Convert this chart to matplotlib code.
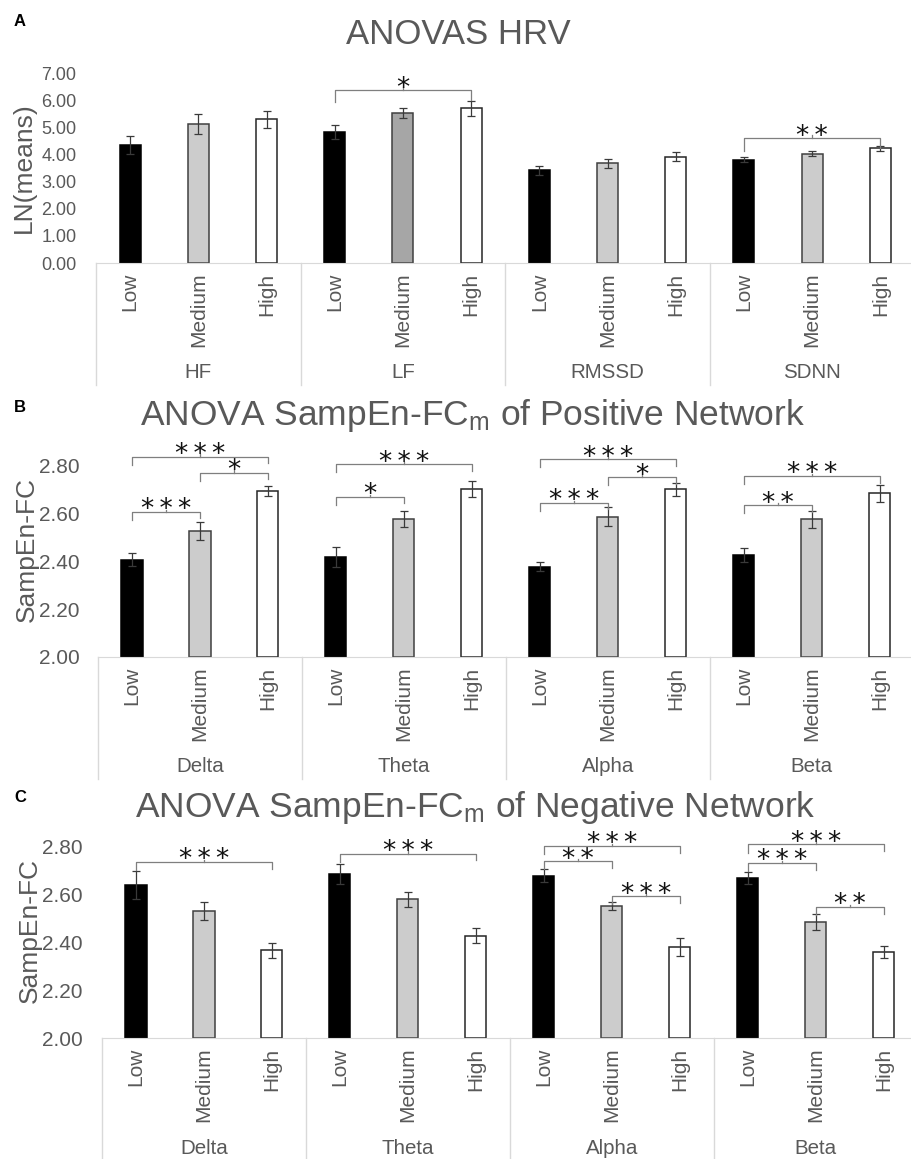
import matplotlib
matplotlib.use("Agg")
import matplotlib.pyplot as plt
import numpy as np

plt.rcParams['font.family'] = ['Liberation Sans', 'DejaVu Sans']
plt.rcParams['mathtext.fontset'] = 'custom'
plt.rcParams['mathtext.rm'] = 'Liberation Sans'
plt.rcParams['mathtext.it'] = 'Liberation Sans'

levels = ['Low', 'Medium', 'High']

# Panel A - HRV
hrv_groups = ['HF', 'LF', 'RMSSD', 'SDNN']
hrv_means = [4.35, 5.12, 5.29, 4.82, 5.54, 5.70, 3.41, 3.68, 3.92, 3.80, 4.02, 4.23]
hrv_err = [0.32, 0.38, 0.31, 0.26, 0.18, 0.28, 0.15, 0.17, 0.17, 0.09, 0.09, 0.09]
hrv_sig = [(3, 5, 6.37, '*'), (9, 11, 4.59, '**')]

# Panel B - positive network
bands = ['Delta', 'Theta', 'Alpha', 'Beta']
pos_means = [2.408, 2.526, 2.696, 2.418, 2.578, 2.702, 2.378, 2.587, 2.702, 2.427, 2.576, 2.685]
pos_err = [0.026, 0.038, 0.020, 0.043, 0.034, 0.033, 0.019, 0.039, 0.028, 0.029, 0.036, 0.036]
pos_sig = [(0, 1, 2.608, '***'), (0, 2, 2.839, '***'), (1, 2, 2.772, '*'),
           (3, 4, 2.671, '*'), (3, 5, 2.808, '***'),
           (6, 7, 2.646, '***'), (6, 8, 2.829, '***'), (7, 8, 2.753, '*'),
           (9, 10, 2.636, '**'), (9, 11, 2.758, '***')]

# Panel C - negative network
neg_means = [2.640, 2.532, 2.367, 2.686, 2.581, 2.429, 2.680, 2.553, 2.381, 2.669, 2.486, 2.360]
neg_err = [0.059, 0.037, 0.032, 0.042, 0.031, 0.031, 0.029, 0.017, 0.038, 0.025, 0.032, 0.025]
neg_sig = [(0, 2, 2.737, '***'), (3, 5, 2.772, '***'),
           (6, 7, 2.741, '**'), (6, 8, 2.804, '***'), (7, 8, 2.594, '***'),
           (9, 10, 2.733, '***'), (9, 11, 2.810, '***'), (10, 11, 2.549, '**')]

GRAY_TXT = '#595959'
fills = ['#000000', '#cccccc', '#ffffff']
edges = ['#000000', '#404040', '#262626']

W, H = 911, 1159
fig = plt.figure(figsize=(W / 100, H / 100), dpi=100)


def px_axes(left, right, top, bottom):
    return fig.add_axes([left / W, 1 - bottom / H, (right - left) / W, (bottom - top) / H])


def draw_panel(ax, means, errs, groups, sigs, ylim, yticks, fmt, ylabel, drop,
               xmax, label_pad, ytick_size, ylab_pad, med_colors=None):
    x = np.arange(len(means))
    colors = [fills[i % 3] for i in x]
    ecols = [edges[i % 3] for i in x]
    if med_colors:
        for k, c in med_colors.items():
            colors[k] = c
    ax.bar(x, np.array(means) - ylim[0], bottom=ylim[0], width=0.31, color=colors,
           edgecolor=ecols, linewidth=1.1, zorder=2)
    ax.errorbar(x, means, yerr=errs, fmt='none', ecolor='#3a3a3a', elinewidth=0.9,
                capsize=3, capthick=0.9, zorder=3)
    ax.set_xlim(-0.5, xmax)
    ax.set_ylim(*ylim)
    ax.set_yticks(yticks)
    ax.set_yticklabels([fmt.format(v) for v in yticks])
    ax.set_xticks(x)
    ax.set_xticklabels([levels[i % 3] for i in x], rotation=90, va='top')
    ax.tick_params(axis='y', length=0, pad=label_pad, labelsize=ytick_size,
                   labelcolor=GRAY_TXT)
    ax.tick_params(axis='x', length=0, pad=7, labelsize=15, labelcolor=GRAY_TXT)
    for s in ['top', 'right', 'left']:
        ax.spines[s].set_visible(False)
    ax.spines['bottom'].set_color('#d9d9d9')
    ax.set_ylabel(ylabel, fontsize=19, color=GRAY_TXT, labelpad=ylab_pad)

    # group labels and separators in the category area
    hpx = ax.bbox.height
    trans = ax.get_xaxis_transform()
    for g, name in enumerate(groups):
        ax.text(3 * g + 1, -110 / hpx, name, transform=trans, ha='center', va='center',
                fontsize=14.8, color=GRAY_TXT)
    for xs in [-0.5, 2.5, 5.5, 8.5]:
        ax.plot([xs, xs], [0, -122 / hpx], transform=trans, color='#d9d9d9', lw=1,
                clip_on=False)

    # significance brackets
    for i, j, y, lab in sigs:
        ax.plot([i, i, j, j], [y - drop, y, y, y - drop * 0.8], color='#7f7f7f', lw=0.9,
                clip_on=False, zorder=4)
        xm = (i + j) / 2
        ax.plot([xm, xm], [y, y + drop * 0.25], color='#7f7f7f', lw=0.9, clip_on=False)
        ax.annotate('\u2009'.join(lab), (xm, y), xytext=(0, -4),
                    textcoords='offset points', ha='center', va='baseline',
                    fontsize=19, color='#111111', family='DejaVu Sans',
                    annotation_clip=False)


# Panel A
axA = px_axes(96, 911, 73, 263)
draw_panel(axA, hrv_means, hrv_err, hrv_groups, hrv_sig, (0, 7),
           np.arange(0, 7.01, 1.0), '{:.2f}', 'LN(means)', 0.45, 11.45, 14, 13, 4,
           med_colors={4: '#a6a6a6'})
fig.text(458 / W, 1 - 35 / H, 'ANOVAS HRV', ha='center', va='center', fontsize=25,
         color=GRAY_TXT)

# Panel B
axB = px_axes(98, 911, 442, 657)
draw_panel(axB, pos_means, pos_err, bands, pos_sig, (2.0, 2.9),
           np.arange(2.0, 2.81, 0.2), '{:.2f}', 'SampEn-FC', 0.035, 11.46, 13, 15, 0)
fig.text(472 / W, 1 - 416 / H, r'ANOVA SampEn-FC$_\mathrm{m}$ of Positive Network',
         ha='center', va='center', fontsize=25.5, color=GRAY_TXT)

# Panel C
axC = px_axes(102, 911, 823, 1038)
draw_panel(axC, neg_means, neg_err, bands, neg_sig, (2.0, 2.9),
           np.arange(2.0, 2.81, 0.2), '{:.2f}', 'SampEn-FC', 0.035, 11.40, 14, 15, 0)
fig.text(475 / W, 1 - 808 / H, r'ANOVA SampEn-FC$_\mathrm{m}$ of Negative Network',
         ha='center', va='center', fontsize=25.5, color=GRAY_TXT)

# panel letters
for lab, ypx in [('A', 22), ('B', 408), ('C', 797)]:
    fig.text(20 / W, 1 - ypx / H, lab, ha='center', va='center', fontsize=12,
             fontweight='bold', color='black')

fig.savefig('out.png', dpi=100)
